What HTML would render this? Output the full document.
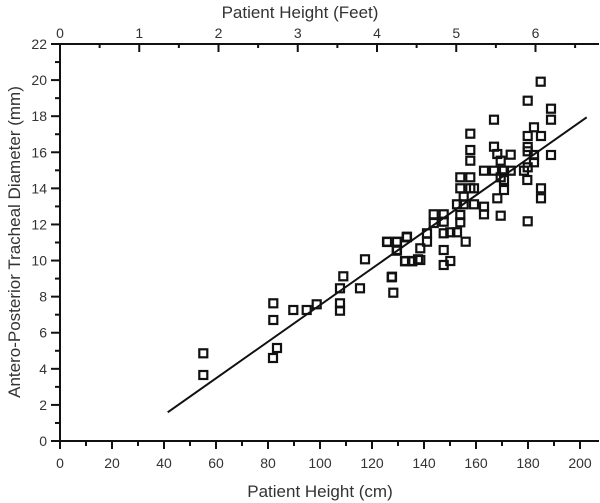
<!DOCTYPE html>
<html><head><meta charset="utf-8"><style>html,body{margin:0;padding:0;background:#fff}svg{display:block}</style></head>
<body>
<svg width="600" height="503" viewBox="0 0 600 503" xmlns="http://www.w3.org/2000/svg" font-family="Liberation Sans, sans-serif" fill="#222">
<g stroke="#111" stroke-width="2" fill="none">
<line x1="59" y1="441" x2="599" y2="441"/>
<line x1="59" y1="44" x2="599" y2="44"/>
<line x1="60" y1="44" x2="60" y2="442"/>
</g>
<g id="ticks" stroke="#111" stroke-width="2"></g>
<g id="labels" font-size="14" fill="#333"></g>
<text x="320" y="497" font-size="17" text-anchor="middle" fill="#333">Patient Height (cm)</text>
<text x="300" y="18" font-size="17" text-anchor="middle" fill="#333">Patient Height (Feet)</text>
<text transform="translate(20,242) rotate(-90)" font-size="17" text-anchor="middle" fill="#333">Antero-Posterior Tracheal Diameter (mm)</text>
<line x1="167.7" y1="412.3" x2="586.7" y2="117.3" stroke="#111" stroke-width="2"/>
<g id="pts" fill="none" stroke="#111" stroke-width="2.2"></g>
</svg>
<script>
const ns="http://www.w3.org/2000/svg";
function el(p,t,a,txt){const e=document.createElementNS(ns,t);for(const k in a)e.setAttribute(k,a[k]);if(txt!==undefined)e.textContent=txt;document.getElementById(p).appendChild(e);}
const X=c=>60+c*2.6, Y=m=>441-m*18.045;
for(let c=0;c<=200;c+=10){const x=X(c);el('ticks','line',{x1:x,y1:441,x2:x,y2:c%20?446:449});if(c%20==0)el('labels','text',{x:x,y:468,'text-anchor':'middle'},c);}
for(let f=0;f<=6.5;f+=0.5){const x=X(f*30.48);el('ticks','line',{x1:x,y1:44,x2:x,y2:f%1?48:52});if(f%1==0)el('labels','text',{x:x,y:38,'text-anchor':'middle'},f);}
for(let m=0;m<=22;m++){const y=Y(m);el('ticks','line',{x1:60,y1:y,x2:m%2?55:51,y2:y});if(m%2==0)el('labels','text',{x:47,y:y+5,'text-anchor':'end'},m);}
const P=[[540.7,81.7],[527.7,100.7],[551,108.7],[551,119.7],[494,119.7],[534,127.3],[470.3,133.7],[527.7,136],[541,136],[470.3,150],[494,146.7],[497.3,154],[510.7,154.7],[527.7,147],[527.7,151.3],[534,155],[534,162.3],[551,155],[470.3,160.7],[500.7,160.7],[484,170.7],[494,170.7],[504,170.7],[510.7,170.7],[524,170.7],[527.7,167.3],[527.3,180],[460.3,177.3],[470.3,177.3],[500.7,177.3],[504,180],[460.3,188.3],[470.3,188.3],[474,188.3],[504,190],[541,188.3],[541,198.3],[463.7,196.7],[497.3,198.3],[457,204.3],[463.7,204.3],[474,204.3],[484,206.7],[484,214.3],[500.7,215.7],[527.7,221.3],[433.7,214.3],[443.7,214.3],[460.3,215],[433.7,223],[443.7,221.7],[460.3,222.3],[427,233.3],[443.7,233.3],[450.3,232.3],[457,232.3],[407,236.7],[427,241.7],[465.7,241.7],[387,241.7],[397,241.7],[397,250],[420.3,248.3],[443.7,250],[405.3,261],[412,261],[420.3,260],[450.3,261],[443.7,265],[392,276.7],[365,259.3],[387.3,242],[396.7,242],[406.7,237.3],[396.7,250.7],[405,261.3],[412.3,261.3],[418,259.3],[343.3,276.3],[340,288.3],[360,288.3],[391.7,277.3],[393.3,292.7],[273.3,303.3],[273.3,320],[293.3,310],[306.7,310],[316.7,304.3],[340,303.3],[340,310.7],[203.3,353.3],[203.3,375],[273,358],[277,348]];
for(const [x,y] of P)el('pts','rect',{x:x-4,y:y-4,width:8,height:8});
</script>
</body></html>
